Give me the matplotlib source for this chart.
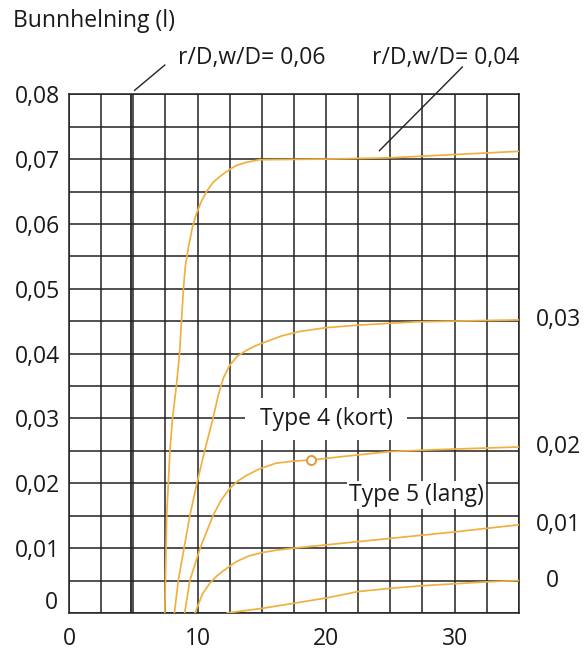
import matplotlib
matplotlib.use("Agg")
import matplotlib.pyplot as plt
import matplotlib.transforms as mtransforms
from matplotlib.ticker import MultipleLocator

plt.rcParams['font.family'] = ['Open Sans', 'DejaVu Sans']

# curves (x = length, y = bunnhelning)
x_04 = [7.45, 7.6, 7.85, 8.05, 8.35, 8.6, 8.75, 8.9, 9.05, 9.3, 9.6, 9.9, 10.3, 10.7, 11.2, 11.85, 12.5,
        13.0, 13.8, 14.8, 20, 25, 30, 35]
y_04 = [0, 0.015, 0.025, 0.03, 0.035, 0.04, 0.045, 0.05, 0.0535, 0.0565, 0.0595, 0.0615, 0.0635, 0.065,
        0.0664, 0.0675, 0.0684, 0.069, 0.0695, 0.0699, 0.07, 0.0702, 0.0707, 0.0712]
x_03 = [8.2, 8.5, 8.95, 9.4, 9.95, 10.55, 11.2, 11.6, 12.0, 12.5, 13.1, 13.8, 14.5, 15.3, 16.5, 17.9, 20,
        22.6, 27, 35]
y_03 = [0, 0.005, 0.01, 0.015, 0.02, 0.025, 0.03, 0.0335, 0.0362, 0.0382, 0.0396, 0.0405, 0.0412, 0.0418,
        0.0427, 0.0434, 0.044, 0.0444, 0.0449, 0.0452]
x_02 = [9.0, 9.4, 10.2, 11.2, 11.8, 12.5, 13.1, 13.8, 14.8, 16.1, 17.4, 18.85, 22.6, 25, 28.8, 35]
y_02 = [0, 0.005, 0.01, 0.015, 0.0173, 0.0192, 0.0203, 0.0212, 0.0222, 0.0231, 0.0234, 0.0236, 0.0244,
        0.0249, 0.0252, 0.0256]
x_01 = [9.8, 10.4, 11.0, 11.5, 12.0, 12.5, 13.0, 14.0, 15, 16.2, 17.5, 20, 22.5, 25, 27.5, 30, 35]
y_01 = [0, 0.003, 0.0047, 0.0057, 0.0065, 0.0072, 0.0079, 0.0088, 0.0093, 0.0097, 0.01, 0.0105, 0.011,
        0.0115, 0.012, 0.0125, 0.0136]
x_00 = [12.3, 15, 17.5, 20, 22.5, 25, 27.5, 30, 32.5, 35]
y_00 = [0, 0.0007, 0.0015, 0.0023, 0.0033, 0.0038, 0.0042, 0.0045, 0.0048, 0.005]

curves = [(x_04, y_04), (x_03, y_03), (x_02, y_02), (x_01, y_01), (x_00, y_00)]
right_labels = ['0,03', '0,02', '0,01', '0']   # for curves 03, 02, 01, 00
x_006 = 4.85          # vertical line r/D,w/D = 0,06
marker_x, marker_y = 18.85, 0.0236

x_ticks = [0, 10, 20, 30]
x_ticklabels = ['0', '10', '20', '30']
y_ticks = [0, 0.01, 0.02, 0.03, 0.04, 0.05, 0.06, 0.07, 0.08]
y_ticklabels = ['0', '0,01', '0,02', '0,03', '0,04', '0,05', '0,06', '0,07', '0,08']

orange = '#F0B040'
ink = '#222222'
txt = '#1a1a1a'
fs = 16.5

fig = plt.figure(figsize=(5.85, 6.5), dpi=100)
ax = fig.add_axes([0.118, 0.057, 0.769, 0.798])

for xs, ys in curves:
    ax.plot(xs, ys, color=orange, lw=1.25, zorder=6, solid_joinstyle='round')
ax.plot([marker_x], [marker_y], 'o', ms=6.5, mfc='white', mec='#E39A35', mew=1.4, zorder=7)
ax.axvline(x_006, color=ink, lw=1.3, zorder=4)

ax.set_xlim(0, 35)
ax.set_ylim(0, 0.08)
ax.set_xticks(x_ticks)
ax.set_xticklabels(x_ticklabels)
ax.set_yticks(y_ticks)
ax.set_yticklabels(y_ticklabels)
ax.xaxis.set_minor_locator(MultipleLocator(2.5))
ax.yaxis.set_minor_locator(MultipleLocator(0.005))
ax.grid(True, which='both', color=ink, lw=1.1, zorder=1)
ax.tick_params(which='both', length=0, labelsize=fs, colors=txt)
ax.tick_params(axis='x', pad=10.2)
ax.tick_params(axis='y', pad=6.2)
for s in ax.spines.values():
    s.set_color(ink)
    s.set_linewidth(1.1)

# the y "0" sits a bit higher than the axis
lab0 = ax.get_yticklabels()[0]
lab0.set_transform(lab0.get_transform() + mtransforms.ScaledTranslation(-2 / 72, 9.5 / 72, fig.dpi_scale_trans))

# labels at the right end of curves
for (xs, ys), lab in zip(curves[1:], right_labels):
    dx = 37.1 if lab == '0' else 36.3
    ax.text(dx, ys[-1], lab, fontsize=fs, va='center', ha='left', clip_on=False, color=txt)

# type labels with white boxes breaking the grid
ax.text(20.0, 0.0290, ' Type 4 (kort) ', fontsize=fs, ha='center', va='baseline', zorder=5, color=txt,
        bbox=dict(boxstyle='square,pad=0.38', fc='white', ec='none'))
ax.text(27.05, 0.01727, 'Type 5 (lang)', fontsize=fs, ha='center', va='baseline', zorder=5, color=txt,
        bbox=dict(boxstyle='square,pad=0.1', fc='white', ec='none'))

# top annotations with leader lines
ax.text(8.5, 0.0846, 'r/D,w/D= 0,06', fontsize=fs, ha='left', va='baseline', clip_on=False, color=txt)
ax.plot([5.1, 7.45], [0.0806, 0.0845], color=ink, lw=1.0, clip_on=False)
ax.text(23.6, 0.0846, 'r/D,w/D= 0,04', fontsize=fs, ha='left', va='baseline', clip_on=False, color=txt)
ax.plot([24.15, 30.6], [0.0713, 0.0842], color=ink, lw=1.0, clip_on=False)

fig.text(13 / 585, 1 - 27 / 650, 'Bunnhelning (l)', fontsize=fs, ha='left', va='baseline', color=txt)

fig.savefig('out.png', dpi=100, facecolor='white')
